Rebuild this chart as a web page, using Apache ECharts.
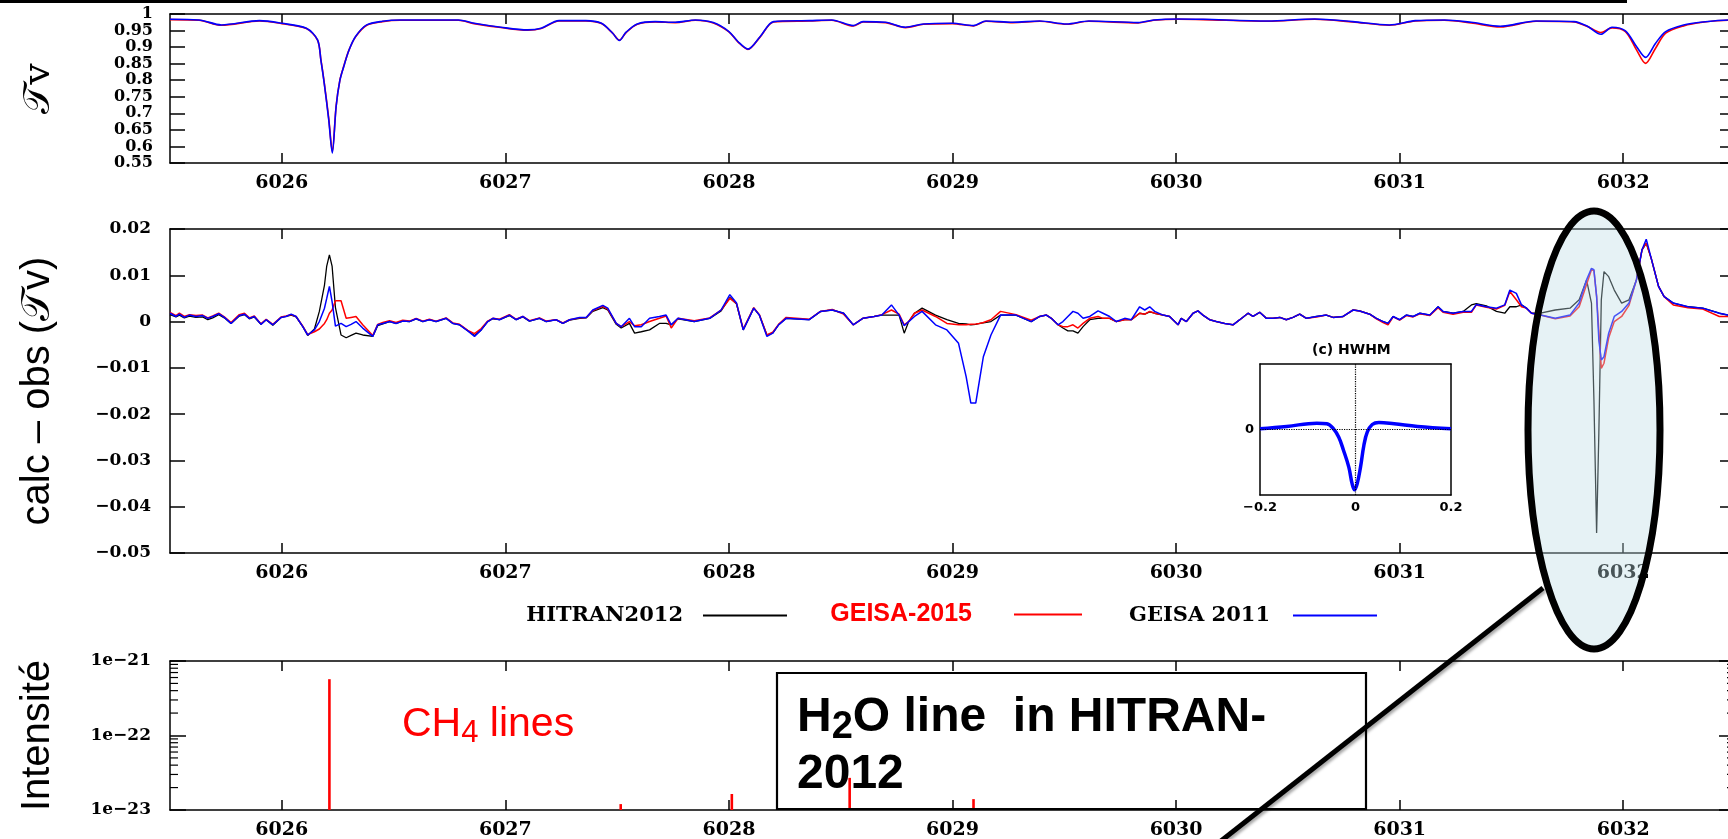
<!DOCTYPE html>
<html><head><meta charset="utf-8">
<script src="https://cdn.jsdelivr.net/npm/echarts@6/dist/echarts.min.js"></script>
<style>html,body{margin:0;padding:0;background:#fff;overflow:hidden}#c{width:1728px;height:839px}</style>
</head><body><div id="c"></div><script>
// ---------------- DATA ----------------
const tickWave = [6026, 6027, 6028, 6029, 6030, 6031, 6032];
const X_MIN = 6025.5, X_MAX = 6032.5;

// Panel 1 : transmission Tv
const trWave = [6025.50,6025.63,6025.73,6025.90,6026.00,6026.11,6026.16,6026.175,6026.19,6026.21,
  6026.226,6026.243,6026.26,6026.277,6026.30,6026.33,6026.38,6026.45,6026.53,6026.79,
  6026.86,6026.98,6027.10,6027.16,6027.24,6027.36,6027.43,6027.48,6027.51,6027.54,
  6027.59,6027.67,6027.76,6027.85,6027.93,6028.00,6028.04,6028.085,6028.14,6028.20,
  6028.36,6028.46,6028.556,6028.60,6028.70,6028.79,6028.87,6029.00,6029.094,6029.15,
  6029.27,6029.39,6029.51,6029.61,6029.83,6029.90,6030.01,6030.12,6030.41,6030.62,
  6030.79,6030.954,6031.07,6031.20,6031.32,6031.45,6031.61,6031.78,6031.84,6031.90,
  6031.95,6032.01,6032.06,6032.10,6032.144,6032.19,6032.27,6032.355,6032.47,6032.50];
const trGeisa2011 = [0.984,0.982,0.967,0.980,0.972,0.957,0.922,0.860,0.790,0.680,
  0.580,0.720,0.800,0.841,0.890,0.932,0.967,0.978,0.982,0.982,
  0.972,0.960,0.952,0.957,0.980,0.980,0.972,0.942,0.920,0.945,
  0.970,0.977,0.975,0.982,0.974,0.947,0.917,0.894,0.932,0.977,
  0.980,0.982,0.965,0.977,0.975,0.960,0.970,0.972,0.965,0.979,
  0.975,0.979,0.970,0.979,0.974,0.982,0.985,0.984,0.979,0.985,
  0.977,0.967,0.980,0.982,0.975,0.963,0.979,0.977,0.963,0.939,
  0.960,0.949,0.901,0.869,0.911,0.947,0.967,0.976,0.982,0.982];
const trGeisa2015 = [0.983,0.981,0.966,0.979,0.971,0.956,0.921,0.862,0.792,0.685,
  0.585,0.722,0.801,0.842,0.890,0.931,0.966,0.977,0.981,0.981,
  0.971,0.959,0.951,0.956,0.979,0.979,0.971,0.942,0.921,0.944,
  0.969,0.976,0.974,0.981,0.973,0.946,0.916,0.893,0.931,0.976,
  0.979,0.981,0.964,0.976,0.974,0.959,0.969,0.971,0.964,0.978,
  0.974,0.978,0.969,0.978,0.973,0.981,0.984,0.983,0.978,0.984,
  0.976,0.966,0.979,0.981,0.973,0.961,0.978,0.976,0.962,0.944,
  0.958,0.947,0.891,0.851,0.896,0.942,0.964,0.975,0.981,0.981];

// Panel 2 : residuals calc - obs
const resWave = [
  6025.500,6025.527,6025.542,6025.564,6025.587,6025.616,6025.646,6025.669,6025.691,6025.718,
  6025.743,6025.773,6025.810,6025.833,6025.855,6025.877,6025.907,6025.930,6025.960,6025.997,
  6026.019,6026.042,6026.064,6026.094,6026.116,6026.146,6026.168,6026.191,6026.201,6026.213,
  6026.225,6026.240,6026.265,6026.288,6026.310,6026.332,6026.362,6026.407,6026.429,6026.452,
  6026.482,6026.511,6026.541,6026.571,6026.601,6026.631,6026.660,6026.690,6026.735,6026.765,
  6026.795,6026.832,6026.862,6026.892,6026.921,6026.944,6026.974,6027.018,6027.048,6027.078,
  6027.108,6027.153,6027.183,6027.227,6027.257,6027.287,6027.332,6027.362,6027.391,6027.436,
  6027.458,6027.496,6027.518,6027.555,6027.578,6027.608,6027.645,6027.689,6027.719,6027.742,
  6027.772,
  6027.845,6027.914,6027.965,6028.004,6028.034,6028.064,6028.111,6028.136,6028.170,6028.196,
  6028.222,6028.256,6028.359,6028.410,6028.462,6028.513,6028.556,6028.599,6028.650,6028.684,
  6028.727,6028.761,6028.784,6028.804,6028.830,6028.864,6028.924,6028.975,6029.027,6029.061,
  6029.082,6029.104,6029.121,6029.138,6029.172,6029.215,6029.284,6029.352,
  6029.390,6029.420,6029.442,6029.472,6029.494,6029.516,6029.539,6029.561,6029.584,6029.614,
  6029.651,6029.673,6029.703,6029.733,6029.770,6029.800,6029.837,6029.860,6029.882,6029.904,
  6029.942,6029.971,6030.009,6030.023,6030.046,6030.076,6030.098,6030.120,6030.150,6030.180,
  6030.217,6030.255,6030.285,6030.322,6030.344,6030.374,6030.404,6030.434,6030.464,6030.493,
  6030.523,6030.553,6030.583,6030.628,6030.672,6030.702,6030.747,6030.792,6030.821,6030.866,
  6030.896,6030.926,6030.948,6030.971,6031.000,6031.030,6031.060,6031.090,6031.135,6031.172,
  6031.194,6031.239,6031.284,6031.321,6031.343,6031.388,6031.433,6031.470,6031.493,6031.522,
  6031.545,6031.567,6031.590,
  6031.630,6031.696,6031.762,6031.803,6031.836,6031.858,6031.869,6031.881,6031.891,6031.902,
  6031.914,6031.935,6031.960,6031.993,6032.026,6032.059,6032.084,6032.103,6032.125,6032.158,
  6032.183,6032.224,6032.290,6032.356,6032.430,6032.468,6032.500];
const resHitran2012 = [
  0.0015,0.0010,0.0014,0.0008,0.0012,0.0009,0.0010,0.0004,0.0008,0.0015,
  0.0008,-0.0004,0.0012,0.0015,0.0006,0.0010,-0.0006,0.0004,-0.0008,0.0009,
  0.0011,0.0014,0.0010,-0.0011,-0.0030,-0.0016,0.0022,0.0079,0.0120,0.0144,
  0.0120,0.0030,-0.0029,-0.0035,-0.0030,-0.0025,-0.0029,-0.0032,-0.0009,-0.0005,
  0.0000,-0.0004,0.0001,0.0000,0.0006,0.0000,0.0004,0.0000,0.0007,-0.0004,
  -0.0007,-0.0020,-0.0030,-0.0018,0.0000,0.0006,0.0004,0.0013,0.0004,0.0010,
  0.0001,0.0007,0.0000,0.0004,-0.0004,0.0003,0.0007,0.0008,0.0022,0.0030,
  0.0025,-0.0006,-0.0014,-0.0004,-0.0025,-0.0022,-0.0018,-0.0004,-0.0004,-0.0007,
  0.0006,
  0.0000,0.0007,0.0023,0.0052,0.0038,-0.0018,0.0029,0.0014,-0.0029,-0.0025,
  -0.0007,0.0007,0.0004,0.0022,0.0025,0.0018,-0.0007,0.0007,0.0011,0.0014,
  0.0014,0.0014,-0.0025,0.0000,0.0018,0.0029,0.0014,0.0004,-0.0004,-0.0005,
  -0.0007,-0.0006,-0.0004,-0.0003,0.0000,0.0014,0.0014,0.0000,
  0.0011,0.0014,0.0007,-0.0007,-0.0014,-0.0020,-0.0020,-0.0025,-0.0011,0.0004,
  0.0007,0.0007,0.0007,0.0000,0.0004,0.0004,0.0018,0.0016,0.0021,0.0018,
  0.0014,0.0011,-0.0007,0.0007,0.0000,0.0018,0.0023,0.0014,0.0004,0.0000,
  -0.0004,-0.0007,0.0004,0.0018,0.0011,0.0020,0.0007,0.0007,0.0009,0.0004,
  0.0009,0.0016,0.0007,0.0011,0.0014,0.0009,0.0011,0.0025,0.0023,0.0016,
  0.0007,0.0000,-0.0004,0.0011,0.0004,0.0014,0.0011,0.0018,0.0014,0.0032,
  0.0022,0.0018,0.0022,0.0036,0.0039,0.0034,0.0022,0.0018,0.0032,0.0032,
  0.0036,0.0029,0.0018,
  0.0018,0.0025,0.0029,0.0047,0.0090,0.0040,-0.0169,-0.0457,-0.0241,0.0047,
  0.0108,0.0097,0.0068,0.0040,0.0047,0.0090,0.0155,0.0169,0.0137,0.0076,
  0.0054,0.0040,0.0032,0.0029,0.0018,0.0014,0.0014];
const resGeisa2015 = [
  0.0020,0.0013,0.0018,0.0011,0.0015,0.0013,0.0014,0.0008,0.0012,0.0018,
  0.0010,-0.0002,0.0015,0.0018,0.0008,0.0012,-0.0005,0.0005,-0.0006,0.0010,
  0.0012,0.0015,0.0011,-0.0010,-0.0028,-0.0022,-0.0016,-0.0004,0.0004,0.0018,
  0.0025,0.0045,0.0045,0.0007,0.0009,0.0011,-0.0007,-0.0030,-0.0006,-0.0002,
  0.0002,-0.0002,0.0003,0.0001,0.0007,0.0001,0.0005,0.0001,0.0008,-0.0003,
  -0.0006,-0.0019,-0.0026,-0.0015,0.0001,0.0007,0.0005,0.0015,0.0005,0.0011,
  0.0002,0.0008,0.0001,0.0004,-0.0003,0.0004,0.0008,0.0009,0.0024,0.0033,
  0.0027,-0.0004,-0.0011,0.0000,-0.0009,-0.0007,0.0000,0.0007,0.0012,-0.0014,
  0.0007,
  0.0002,0.0008,0.0025,0.0050,0.0039,-0.0016,0.0030,0.0015,-0.0029,-0.0023,
  -0.0006,0.0009,0.0005,0.0022,0.0026,0.0016,-0.0007,0.0007,0.0011,0.0015,
  0.0025,0.0016,-0.0007,0.0000,0.0018,0.0025,0.0011,-0.0004,-0.0007,-0.0007,
  -0.0006,-0.0005,-0.0004,-0.0002,0.0004,0.0022,0.0015,0.0003,
  0.0011,0.0014,0.0007,-0.0007,-0.0011,-0.0011,-0.0007,-0.0014,-0.0004,0.0007,
  0.0011,0.0007,0.0007,0.0000,0.0004,0.0004,0.0018,0.0016,0.0022,0.0018,
  0.0014,0.0011,-0.0007,0.0007,0.0000,0.0018,0.0023,0.0014,0.0004,0.0000,
  -0.0004,-0.0007,0.0004,0.0018,0.0011,0.0020,0.0007,0.0007,0.0009,0.0004,
  0.0009,0.0016,0.0007,0.0010,0.0014,0.0009,0.0011,0.0025,0.0023,0.0016,
  0.0006,-0.0002,-0.0007,0.0010,0.0003,0.0013,0.0010,0.0017,0.0013,0.0030,
  0.0020,0.0016,0.0020,0.0020,0.0036,0.0031,0.0027,0.0035,0.0065,0.0047,
  0.0032,0.0029,0.0018,
  0.0014,0.0006,0.0012,0.0032,0.0080,0.0112,0.0110,0.0055,-0.0020,-0.0101,
  -0.0090,-0.0035,0.0000,0.0011,0.0035,0.0090,0.0155,0.0170,0.0137,0.0076,
  0.0054,0.0036,0.0030,0.0027,0.0011,0.0011,0.0012];
const resGeisa2011 = [
  0.0018,0.0011,0.0016,0.0009,0.0014,0.0011,0.0013,0.0007,0.0011,0.0017,
  0.0009,-0.0004,0.0013,0.0016,0.0007,0.0011,-0.0006,0.0004,-0.0007,0.0009,
  0.0011,0.0016,0.0011,-0.0011,-0.0029,-0.0018,0.0000,0.0029,0.0050,0.0076,
  0.0043,-0.0010,-0.0004,-0.0011,-0.0006,0.0000,-0.0014,-0.0032,-0.0007,-0.0004,
  0.0000,-0.0004,0.0001,0.0000,0.0006,0.0000,0.0004,0.0000,0.0007,-0.0004,
  -0.0007,-0.0020,-0.0032,-0.0018,0.0000,0.0007,0.0004,0.0014,0.0004,0.0011,
  0.0001,0.0007,0.0000,0.0004,-0.0004,0.0004,0.0009,0.0009,0.0025,0.0035,
  0.0029,-0.0004,-0.0011,0.0007,-0.0011,-0.0011,0.0007,0.0011,0.0014,-0.0007,
  0.0007,
  0.0000,0.0007,0.0025,0.0058,0.0040,-0.0018,0.0029,0.0014,-0.0032,-0.0025,
  -0.0007,0.0007,0.0004,0.0022,0.0025,0.0018,-0.0007,0.0007,0.0011,0.0014,
  0.0036,0.0014,-0.0009,0.0000,0.0011,0.0022,-0.0007,-0.0018,-0.0047,-0.0119,
  -0.0176,-0.0176,-0.0126,-0.0076,-0.0029,0.0014,0.0014,0.0000,
  0.0011,0.0014,0.0007,-0.0007,0.0000,0.0011,0.0022,0.0018,0.0007,0.0011,
  0.0023,0.0018,0.0011,0.0000,0.0007,0.0004,0.0032,0.0025,0.0032,0.0022,
  0.0014,0.0011,-0.0007,0.0007,0.0000,0.0018,0.0023,0.0014,0.0004,0.0000,
  -0.0004,-0.0007,0.0004,0.0018,0.0011,0.0020,0.0007,0.0007,0.0009,0.0004,
  0.0009,0.0016,0.0007,0.0011,0.0014,0.0009,0.0011,0.0025,0.0023,0.0016,
  0.0007,0.0000,-0.0004,0.0011,0.0004,0.0014,0.0011,0.0018,0.0014,0.0032,
  0.0022,0.0018,0.0022,0.0022,0.0037,0.0032,0.0029,0.0036,0.0068,0.0061,
  0.0036,0.0029,0.0018,
  0.0014,0.0007,0.0014,0.0040,0.0090,0.0115,0.0112,0.0054,-0.0040,-0.0083,
  -0.0076,-0.0025,0.0011,0.0022,0.0040,0.0090,0.0155,0.0178,0.0137,0.0076,
  0.0054,0.0040,0.0032,0.0029,0.0018,0.0014,0.0014];

// Panel 3 : CH4 line intensities (log scale)
const ch4Wave = [6026.213, 6027.516, 6028.013, 6028.540, 6029.094];
const ch4Intensity = [5.7e-22, 1.2e-23, 1.64e-23, 2.7e-23, 1.4e-23];
const intensityTicks = [1e-23, 1e-22, 1e-21];
const intensityMinorTicks = [2e-23,3e-23,4e-23,5e-23,6e-23,7e-23,8e-23,9e-23,2e-22,3e-22,4e-22,5e-22,6e-22,7e-22,8e-22,9e-22];

// Inset (c) HWHM
const hwhmX = [-0.2,-0.144,-0.081,-0.06,-0.046,-0.035,-0.025,-0.014,-0.007,-0.002,0.0035,0.0105,0.0175,0.0246,0.035,0.049,0.081,0.13,0.2];
const hwhmY = [0.01,0.046,0.097,0.087,0.01,-0.117,-0.32,-0.575,-0.83,-0.92,-0.83,-0.575,-0.244,-0.04,0.076,0.107,0.087,0.046,0.01];

// ---------------- CHART ----------------
const zip = (xs, ys) => xs.map((x, i) => [x, ys[i]]);
const lg = v => Math.log10(v);               // decade scale for the intensity panel
const L_MIN = lg(intensityTicks[0]), L_MAX = lg(intensityTicks[2]);
const BLACK = '#000000', RED = '#ff0000', BLUE = '#0000ff';
const lineAx = { show: true, onZero: false, lineStyle: { color: '#000', width: 1.5 } };
const serifBold = { fontFamily: 'DejaVu Serif', fontWeight: 'bold', color: '#000' };
const grids = [
  { left: 170, top: 14, width: 1565, height: 149 },
  { left: 170, top: 229, width: 1565, height: 324 },
  { left: 170, top: 661, width: 1565, height: 149 },
  { left: 1260, top: 364, width: 191, height: 131 }
];
grids.forEach(g => { g.containLabel = false; g.outerBoundsMode = 'none'; });

function xPair(gi) {
  return [
    { type: 'value', gridIndex: gi, min: X_MIN, max: X_MAX, position: 'bottom', axisLine: lineAx,
      axisTick: { show: true, inside: true, length: 10, customValues: tickWave, lineStyle: { color: '#000', width: 1.5 } },
      axisLabel: Object.assign({ customValues: tickWave, fontSize: 19, margin: 11, hideOverlap: false,
        formatter: v => String(Math.round(v)) }, serifBold),
      splitLine: { show: false } },
    { type: 'value', gridIndex: gi, min: X_MIN, max: X_MAX, position: 'top', axisLine: lineAx,
      axisTick: { show: true, inside: true, length: 10, customValues: tickWave, lineStyle: { color: '#000', width: 1.5 } },
      axisLabel: { show: false }, splitLine: { show: false } }
  ];
}
const nameStyle = { fontFamily: 'Liberation Sans', fontSize: 40, color: '#000' };
function yRight(base) {
  return Object.assign({}, base, { position: 'right', name: '', axisLabel: { show: false } });
}
const yTop = { type: 'value', gridIndex: 0, min: 0.55, max: 1, interval: 0.05, position: 'left', axisLine: lineAx,
  axisTick: { show: true, inside: true, length: 15, lineStyle: { color: '#000', width: 1.5 } },
  axisLabel: Object.assign({ fontSize: 16, margin: 17, hideOverlap: false,
    formatter: v => (Math.abs(v - 1) < 1e-9 ? '1' : String(Math.round(v * 100) / 100)) }, serifBold),
  splitLine: { show: false },
  name: '\u{1D4AF}v', nameLocation: 'middle', nameRotate: 90, nameGap: 112,
  nameTextStyle: Object.assign({}, nameStyle, { fontFamily: 'DejaVu Serif, Liberation Serif, serif', fontSize: 38 }) };
const yMid = { type: 'value', gridIndex: 1, min: -0.05, max: 0.02, interval: 0.01, position: 'left', axisLine: lineAx,
  axisTick: { show: true, inside: true, length: 15, lineStyle: { color: '#000', width: 1.5 } },
  axisLabel: Object.assign({ fontSize: 17, margin: 19, hideOverlap: false,
    formatter: v => (Math.abs(v) < 1e-9 ? '0' : v.toFixed(2).replace('-', '\u2212')) }, serifBold),
  splitLine: { show: false },
  name: 'calc \u2013 obs (\u{1D4AF}v)', nameLocation: 'middle', nameRotate: 90, nameGap: 112, nameTextStyle: nameStyle };
const yBot = { type: 'value', gridIndex: 2, min: L_MIN, max: L_MAX, interval: 1, position: 'left', axisLine: lineAx,
  axisTick: { show: true, inside: true, length: 16, lineStyle: { color: '#000', width: 1.5 } },
  axisLabel: Object.assign({ fontSize: 17, margin: 19, hideOverlap: false,
    formatter: v => '1e\u2212' + Math.round(-v) }, serifBold),
  splitLine: { show: false },
  name: 'Intensit\u00e9', nameLocation: 'middle', nameRotate: 90, nameGap: 112, nameTextStyle: nameStyle };
const inLab = { fontFamily: 'DejaVu Sans', fontWeight: 'bold', fontSize: 13, color: '#000' };
const xInset = [
  { type: 'value', gridIndex: 3, min: -0.2, max: 0.2, interval: 0.2, position: 'bottom', axisLine: lineAx,
    axisTick: { show: false }, splitLine: { show: false },
    axisLabel: Object.assign({ margin: 6, formatter: v => (Math.abs(v) < 1e-9 ? '0' : v.toFixed(1).replace('-', '\u2212')) }, inLab) },
  { type: 'value', gridIndex: 3, min: -0.2, max: 0.2, position: 'top', axisLine: lineAx,
    axisTick: { show: false }, axisLabel: { show: false }, splitLine: { show: false } }
];
const yInset = [
  { type: 'value', gridIndex: 3, min: -1, max: 1, interval: 1, position: 'left', axisLine: lineAx,
    axisTick: { show: false }, splitLine: { show: false },
    axisLabel: Object.assign({ margin: 6, formatter: v => (Math.abs(v) < 1e-9 ? '0' : '') }, inLab) },
  { type: 'value', gridIndex: 3, min: -1, max: 1, position: 'right', axisLine: lineAx,
    axisTick: { show: false }, axisLabel: { show: false }, splitLine: { show: false } }
];

const lineSeries = (name, xi, yi, data, color, width, smooth) => ({
  type: 'line', name, xAxisIndex: xi, yAxisIndex: yi, data, showSymbol: false, symbol: 'none',
  smooth: smooth || false, lineStyle: { color, width }, itemStyle: { color }, animation: false, clip: true
});

const legendBase = (name, right, top, itemWidth, padR, textStyle) => ({
  data: [{ name, textStyle }], right, top, itemWidth, itemHeight: 2, icon: 'rect', align: 'right', padding: 0,
  selectedMode: false, textStyle: Object.assign({ padding: [0, padR, 0, 0] }, textStyle)
});

const option = {
  backgroundColor: '#fff',
  animation: false,
  grid: grids,
  xAxis: [...xPair(0), ...xPair(1), ...xPair(2), ...xInset],
  yAxis: [yTop, yRight(yTop), yMid, yRight(yMid), yBot, yRight(yBot), ...yInset],
  legend: [
    legendBase('HITRAN2012', 941, 605, 84, 15, Object.assign({ fontSize: 21 }, serifBold)),
    legendBase('GEISA-2015', 646, 602, 68, 37, { fontFamily: 'Liberation Sans', fontWeight: 'bold', fontSize: 25, color: RED }),
    legendBase('GEISA 2011', 351, 605, 84, 18, Object.assign({ fontSize: 21 }, serifBold))
  ],
  series: [
    lineSeries('GEISA-2015', 0, 0, zip(trWave, trGeisa2015), RED, 1.6, 0.3),
    lineSeries('GEISA 2011', 0, 0, zip(trWave, trGeisa2011), BLUE, 1.6, 0.3),
    lineSeries('HITRAN2012', 2, 2, zip(resWave, resHitran2012), BLACK, 1.3),
    lineSeries('GEISA-2015', 2, 2, zip(resWave, resGeisa2015), RED, 1.5),
    lineSeries('GEISA 2011', 2, 2, zip(resWave, resGeisa2011), BLUE, 1.5),
    {
      type: 'custom', name: 'CH4 lines', xAxisIndex: 4, yAxisIndex: 4, clip: true, silent: true,
      data: ch4Wave.map((w, i) => [w, lg(ch4Intensity[i])]),
      renderItem: (params, api) => {
        const top = api.coord([api.value(0), api.value(1)]);
        const base = api.coord([api.value(0), L_MIN]);
        return { type: 'line', shape: { x1: top[0], y1: top[1], x2: base[0], y2: base[1] },
          style: { stroke: RED, lineWidth: 2.6 } };
      }
    },
    {
      type: 'custom', name: 'minor ticks', xAxisIndex: 4, yAxisIndex: 4, clip: false, silent: true,
      data: intensityMinorTicks.map(v => [X_MIN, lg(v)]),
      renderItem: (params, api) => {
        const p = api.coord([X_MIN, api.value(1)]);
        const q = api.coord([X_MAX, api.value(1)]);
        return { type: 'group', children: [
          { type: 'line', shape: { x1: p[0], y1: p[1], x2: p[0] + 8, y2: p[1] }, style: { stroke: '#000', lineWidth: 1.2 } },
          { type: 'line', shape: { x1: q[0] - 8, y1: q[1], x2: q[0], y2: q[1] }, style: { stroke: '#000', lineWidth: 1.2 } }
        ] };
      }
    },
    Object.assign(lineSeries('HWHM', 6, 6, zip(hwhmX, hwhmY), BLUE, 3.5, 0.4), {
      markLine: { silent: true, symbol: 'none', label: { show: false },
        lineStyle: { type: 'dotted', color: '#000', width: 1.2 },
        data: [{ xAxis: 0 }, { yAxis: 0 }] }
    })
  ],
  graphic: [
    { type: 'line', z: 100, shape: { x1: 0, y1: 1.5, x2: 1627, y2: 1.5 }, style: { stroke: '#000', lineWidth: 3 } },
    { type: 'text', z: 100, left: 1312, top: 343,
      style: { text: '(c) HWHM', fontFamily: 'DejaVu Sans', fontWeight: 'bold', fontSize: 14, fill: '#000' } },
    { type: 'text', z: 100, left: 402, top: 704,
      style: { text: '{a|CH}{s|4}{a| lines}', rich: {
        a: { fontFamily: 'Liberation Sans', fontSize: 41, lineHeight: 48, fill: RED },
        s: { fontFamily: 'Liberation Sans', fontSize: 31, lineHeight: 22, verticalAlign: 'bottom', fill: RED } } } },
    { type: 'rect', z: 100, shape: { x: 777, y: 673, width: 589, height: 136 },
      style: { fill: 'rgba(0,0,0,0)', stroke: '#000', lineWidth: 2.2 } },
    { type: 'text', z: 101, left: 797, top: 694,
      style: { text: '{a|H}{s|2}{a|O line  in HITRAN-}\n{a|2012}', rich: {
        a: { fontFamily: 'Liberation Sans', fontWeight: 'bold', fontSize: 48, lineHeight: 57, fill: '#000' },
        s: { fontFamily: 'Liberation Sans', fontWeight: 'bold', fontSize: 38, lineHeight: 27, verticalAlign: 'bottom', fill: '#000' } } } },
    { type: 'ellipse', z: 110, shape: { cx: 1594, cy: 430, rx: 66, ry: 219 },
      style: { fill: 'rgba(190,222,228,0.38)', stroke: '#000', lineWidth: 7 } },
    { type: 'line', z: 110, shape: { x1: 1543, y1: 588, x2: 1212, y2: 848 },
      style: { stroke: '#000', lineWidth: 5, shadowBlur: 3, shadowColor: 'rgba(0,0,0,0.35)', shadowOffsetX: 2, shadowOffsetY: 2 } }
  ]
};
const chart = echarts.init(document.getElementById('c'), null, { renderer: 'canvas' });
chart.setOption(option);
</script></body></html>
